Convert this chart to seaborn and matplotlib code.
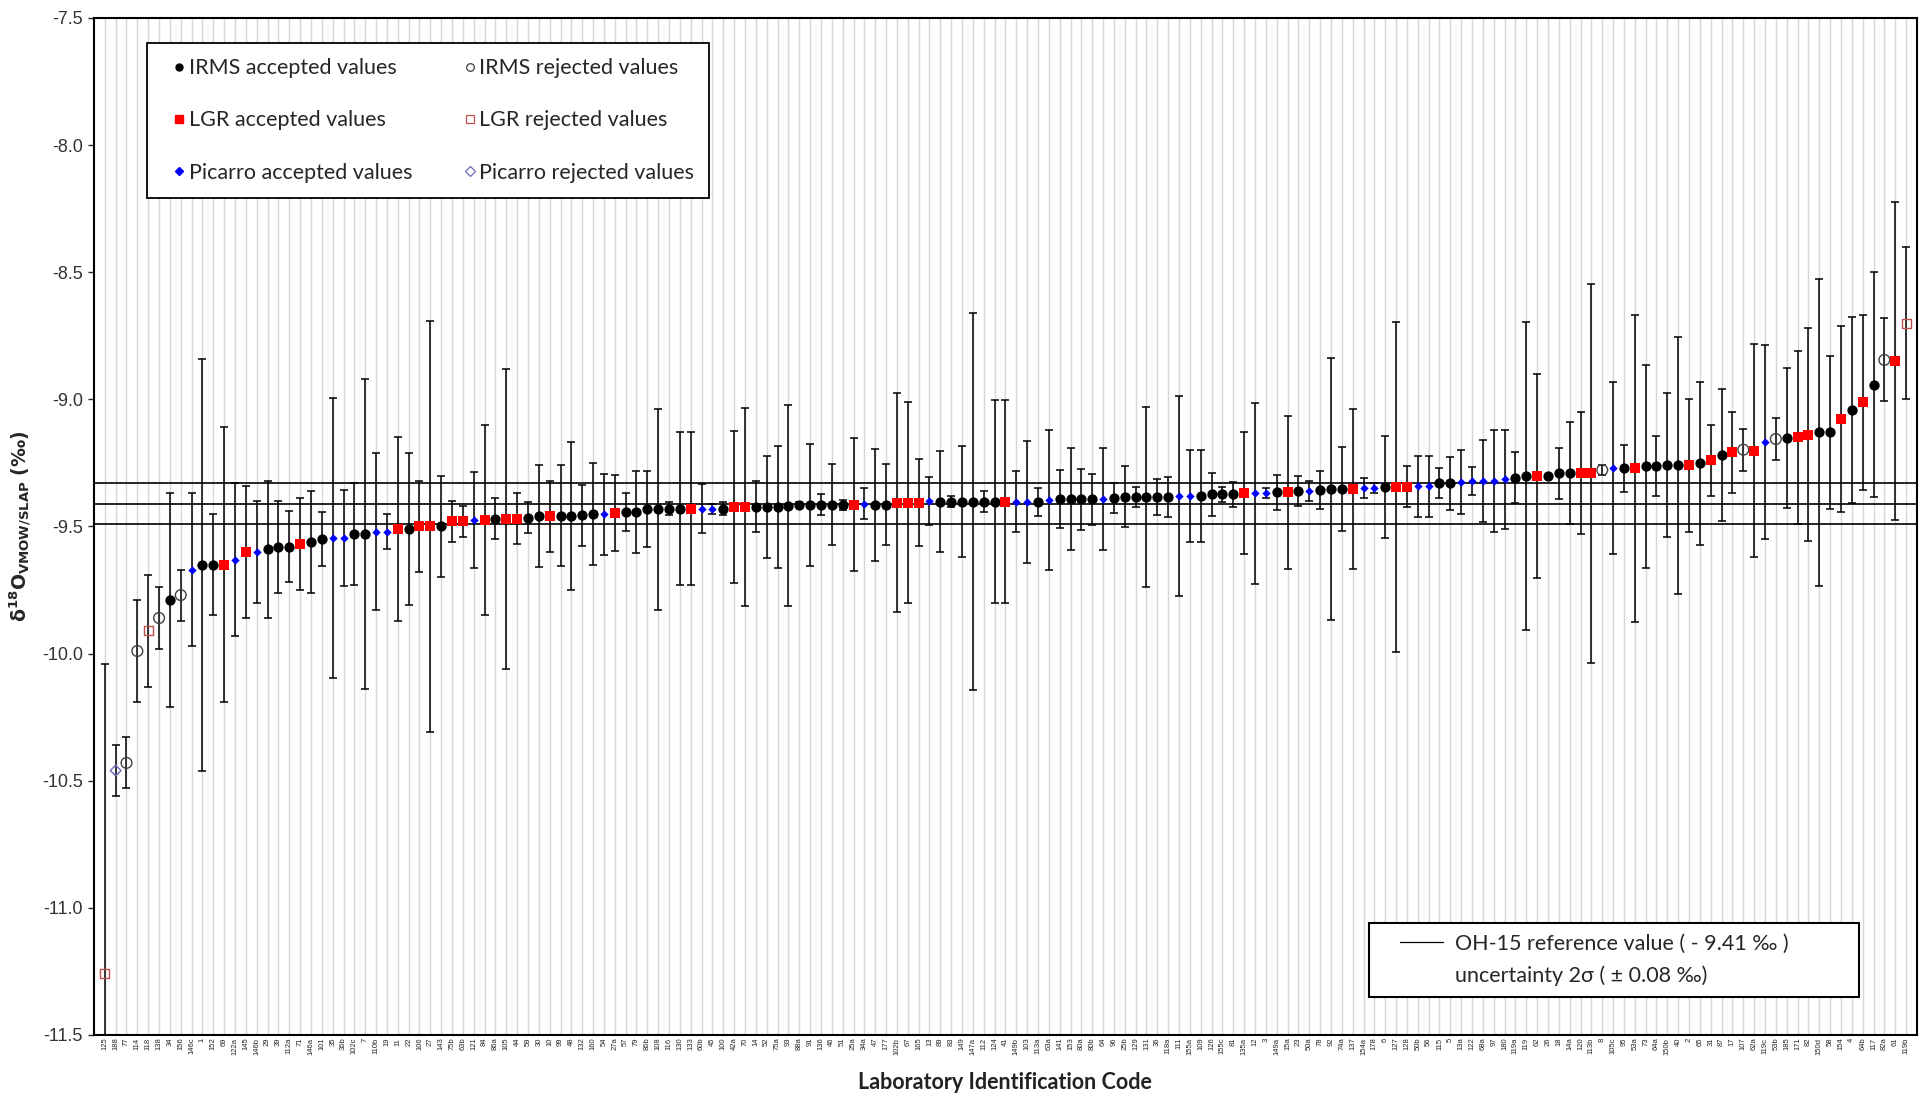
import numpy as np
import pandas as pd
import matplotlib
matplotlib.use('Agg')
import matplotlib.pyplot as plt
import seaborn as sns
from matplotlib.lines import Line2D
from matplotlib.legend_handler import HandlerLine2D

# laboratory codes, in plotted (sorted) order
lab_codes = [
    '125', '188', '77', '114', '118', '138', '34', '156', '146c', '1',
    '152', '69', '122a', '145', '146b', '29', '39', '112a', '71', '146a',
    '101', '35', '36b', '102c', '7', '110b', '19', '11', '22', '106',
    '27', '143', '75b', '63b', '121', '84', '86a', '105', '44', '59',
    '30', '10', '99', '48', '132', '160', '54', '27a', '57', '79',
    '86b', '108', '116', '130', '133', '60b', '45', '100', '42a', '70',
    '14', '52', '75a', '93', '88a', '91', '136', '46', '51', '25a',
    '34a', '47', '177', '102b', '67', '165', '13', '89', '83', '149',
    '147a', '112', '124', '41', '149b', '103', '113a', '63a', '141', '153',
    '80a', '80b', '64', '96', '25b', '129', '131', '36', '118a', '111',
    '155a', '109', '126', '155c', '81', '135a', '12', '3', '149a', '15a',
    '23', '50a', '78', '92', '74a', '137', '154a', '178', '6', '127',
    '128', '50b', '56', '115', '5', '13a', '122', '68a', '97', '180',
    '119a', '119', '62', '26', '18', '14a', '120', '113b', '8', '105c',
    '95', '53a', '73', '64a', '150b', '40', '2', '65', '31', '87',
    '17', '107', '62a', '119c', '53b', '185', '171', '82', '150d', '58',
    '154', '4', '64b', '117', '82a', '61', '119b',
]

# delta 18O results (permil)
d18o = [
    -11.26, -10.46, -10.43, -9.99, -9.91, -9.86, -9.79, -9.77, -9.67, -9.65,
    -9.65, -9.65, -9.63, -9.60, -9.60, -9.59, -9.58, -9.58, -9.57, -9.56,
    -9.55, -9.545, -9.545, -9.53, -9.53, -9.52, -9.52, -9.51, -9.51, -9.50,
    -9.50, -9.50, -9.48, -9.48, -9.475, -9.475, -9.47, -9.47, -9.47, -9.465,
    -9.46, -9.46, -9.457, -9.458, -9.455, -9.452, -9.452, -9.446, -9.443, -9.443,
    -9.432, -9.432, -9.43, -9.43, -9.43, -9.43, -9.43, -9.43, -9.423, -9.423,
    -9.423, -9.423, -9.423, -9.418, -9.414, -9.414, -9.414, -9.414, -9.414, -9.414,
    -9.41, -9.414, -9.414, -9.406, -9.406, -9.406, -9.40, -9.402, -9.402, -9.402,
    -9.402, -9.402, -9.402, -9.402, -9.402, -9.402, -9.402, -9.397, -9.393, -9.393,
    -9.393, -9.393, -9.393, -9.388, -9.384, -9.384, -9.384, -9.384, -9.384, -9.38,
    -9.38, -9.38, -9.374, -9.374, -9.374, -9.37, -9.37, -9.37, -9.366, -9.366,
    -9.361, -9.361, -9.357, -9.353, -9.353, -9.353, -9.35, -9.35, -9.344, -9.344,
    -9.344, -9.341, -9.341, -9.33, -9.33, -9.325, -9.321, -9.321, -9.321, -9.315,
    -9.308, -9.302, -9.302, -9.302, -9.291, -9.291, -9.291, -9.291, -9.278, -9.27,
    -9.272, -9.272, -9.264, -9.264, -9.26, -9.26, -9.26, -9.251, -9.239, -9.22,
    -9.209, -9.198, -9.202, -9.168, -9.156, -9.153, -9.149, -9.139, -9.13, -9.13,
    -9.077, -9.041, -9.012, -8.942, -8.845, -8.848, -8.70,
]

# reported uncertainty (half length of the error bar)
unc = [
    1.22, 0.10, 0.10, 0.20, 0.22, 0.12, 0.42, 0.10, 0.30, 0.81,
    0.20, 0.54, 0.30, 0.26, 0.20, 0.27, 0.18, 0.14, 0.18, 0.20,
    0.105, 0.55, 0.19, 0.20, 0.61, 0.31, 0.07, 0.36, 0.30, 0.18,
    0.81, 0.20, 0.08, 0.06, 0.19, 0.375, 0.08, 0.59, 0.10, 0.06,
    0.20, 0.14, 0.20, 0.29, 0.12, 0.20, 0.16, 0.15, 0.076, 0.16,
    0.15, 0.395, 0.025, 0.30, 0.30, 0.097, 0.02, 0.025, 0.30, 0.39,
    0.10, 0.20, 0.24, 0.395, 0.01, 0.24, 0.04, 0.16, 0.02, 0.26,
    0.06, 0.22, 0.16, 0.43, 0.395, 0.17, 0.095, 0.20, 0.02, 0.22,
    0.74, 0.04, 0.40, 0.40, 0.12, 0.24, 0.055, 0.275, 0.115, 0.20,
    0.12, 0.10, 0.20, 0.06, 0.12, 0.04, 0.355, 0.07, 0.08, 0.395,
    0.18, 0.18, 0.085, 0.03, 0.05, 0.24, 0.355, 0.02, 0.07, 0.30,
    0.06, 0.04, 0.075, 0.515, 0.165, 0.315, 0.04, 0.02, 0.20, 0.65,
    0.08, 0.12, 0.12, 0.06, 0.105, 0.125, 0.055, 0.16, 0.20, 0.195,
    0.10, 0.607, 0.40, 0.0, 0.10, 0.20, 0.24, 0.745, 0.02, 0.34,
    0.093, 0.605, 0.40, 0.118, 0.283, 0.504, 0.26, 0.32, 0.14, 0.26,
    0.16, 0.082, 0.42, 0.38, 0.082, 0.275, 0.34, 0.42, 0.605, 0.30,
    0.365, 0.365, 0.344, 0.443, 0.163, 0.626, 0.30,
]

# I = IRMS, L = LGR, P = Picarro
instrument = list(
    "LPIILIIIPI" "ILPLPIIILI" "IPPIIPPLIL" "LILLPLILLI" "ILIIIIPLII"
    "IIIILPPILL" "IIIIIIIIIL" "PIILLLPIII" "IIILPPIPII" "IIPIIIIIIP"
    "PIIIILPPIL" "IPIIILPPIL" "LPPIIPPPPP" "IILIIILLIP" "ILIIIILILI"
    "LILPIILLII" "LILIILL"
)

# positions (1-based) of rejected results
rejected = [1, 2, 3, 4, 5, 6, 8, 139, 152, 155, 165, 167]

ref_value = -9.41
ref_unc = 0.08

df = pd.DataFrame({'lab': lab_codes, 'd18o': d18o, 'unc': unc, 'inst': instrument})
df['pos'] = np.arange(1, len(df) + 1)
df['rejected'] = df['pos'].isin(rejected)

sns.set_theme(style='white')
plt.rcParams['font.family'] = ['Lato', 'DejaVu Sans']
plt.rcParams['axes.unicode_minus'] = False
plt.rcParams['mathtext.fontset'] = 'dejavusans'

fig = plt.figure(figsize=(19.25, 10.96), dpi=100)
ax = fig.add_axes([0.0488, 0.0557, 0.9470, 0.9279])

# reference value and its uncertainty band
for yv in (ref_value + ref_unc, ref_value, ref_value - ref_unc):
    ax.axhline(yv, color='black', lw=1.2, zorder=1.5)

ax.errorbar(df['pos'], df['d18o'], yerr=df['unc'], fmt='none', ecolor='black',
            elinewidth=1.1, capsize=2.8, capthick=1.1, zorder=2)

styles = {
    ('I', False): dict(marker='o', s=55, color='black', edgecolor='black', linewidth=0),
    ('L', False): dict(marker='s', s=58, color='#ff0000', edgecolor='#ff0000', linewidth=0),
    ('P', False): dict(marker='D', s=18, color='#0000ff', edgecolor='#0000ff', linewidth=0),
    ('I', True): dict(marker='o', s=60, facecolor='none', edgecolor='#404040', linewidth=1.0),
    ('L', True): dict(marker='s', s=42, facecolor='none', edgecolor='#c0504d', linewidth=1.0),
    ('P', True): dict(marker='D', s=30, facecolor='none', edgecolor='#6b6bb8', linewidth=1.0),
}
for (inst, rej), sub in df.groupby(['inst', 'rejected']):
    sns.scatterplot(data=sub, x='pos', y='d18o', ax=ax, legend=False, zorder=3,
                    **styles[(inst, rej)])

ax.set_xlim(0, len(df) + 1)
ax.set_ylim(-11.5, -7.5)
ax.set_xticks(df['pos'])
ax.set_xticklabels(df['lab'], rotation=90, fontsize=5.5, family='Liberation Sans')
yt = np.arange(-11.5, -7.49, 0.5)
ax.set_yticks(yt)
ax.set_yticklabels([f'{v:.1f}' for v in yt], fontsize=13, family='Liberation Sans',
                   color='#333333')
ax.tick_params(axis='x', length=0, pad=2)
ax.tick_params(axis='y', length=4, width=1, direction='out', left=True, pad=4)

ax.grid(axis='x', color='#d6d6d6', lw=1.0)
ax.grid(axis='y', visible=False)
ax.set_axisbelow(True)
for sp in ax.spines.values():
    sp.set_color('black')
    sp.set_linewidth(1.5)

ax.set_xlabel('Laboratory Identification Code', fontsize=15.5, fontweight='bold',
              color='#222222')
ax.xaxis.set_label_coords(0.5, -0.036)
ax.set_ylabel(r'$\mathbf{\delta^{18}O_{VMOW/SLAP}\ (‰)}$', fontsize=13.6)
ax.yaxis.set_label_coords(-0.033, 0.5)

legend_font = {'family': ['Lato', 'DejaVu Sans'], 'size': 15.5}

# marker legend
h1 = [
    Line2D([], [], ls='none', marker='o', mfc='black', mec='black', ms=5),
    Line2D([], [], ls='none', marker='s', mfc='#ff0000', mec='#ff0000', ms=5.5),
    Line2D([], [], ls='none', marker='D', mfc='#0000ff', mec='#0000ff', ms=3.8),
    Line2D([], [], ls='none', marker='o', mfc='none', mec='#404040', ms=5.5, mew=0.9),
    Line2D([], [], ls='none', marker='s', mfc='none', mec='#c0504d', ms=5.5, mew=0.9),
    Line2D([], [], ls='none', marker='D', mfc='none', mec='#6b6bb8', ms=5, mew=0.9),
]
l1 = ['IRMS accepted values', 'LGR accepted values', 'Picarro accepted values',
      'IRMS rejected values', 'LGR rejected values', 'Picarro rejected values']
leg1 = ax.legend(h1, l1, ncol=2, loc='upper left', bbox_to_anchor=(0.0291, 0.9754),
                 borderaxespad=0, fancybox=False, edgecolor='black', framealpha=1,
                 prop=legend_font, handlelength=1.58, handletextpad=-0.33,
                 labelspacing=1.5, borderpad=0.7, columnspacing=1.86)
leg1.get_frame().set_linewidth(1.3)
ax.add_artist(leg1)

# reference value legend
h2 = [Line2D([], [], color='black', lw=0.9), Line2D([], [], color='none')]
l2 = ['OH-15 reference value ( - 9.41 ‰ )', 'uncertainty 2σ ( ± 0.08 ‰)']
leg2 = ax.legend(h2, l2, loc='upper left', bbox_to_anchor=(0.6994, 0.0, 0.2688, 0.1101),
                 mode='expand', borderaxespad=0, fancybox=False, edgecolor='black',
                 framealpha=1, prop=legend_font, handlelength=2.93,
                 handletextpad=0.56, labelspacing=0.55, borderpad=0.5,
                 handler_map={h2[0]: HandlerLine2D(xpad=0.93)})
leg2.get_frame().set_linewidth(1.5)

fig.savefig('out.png', dpi=100)
